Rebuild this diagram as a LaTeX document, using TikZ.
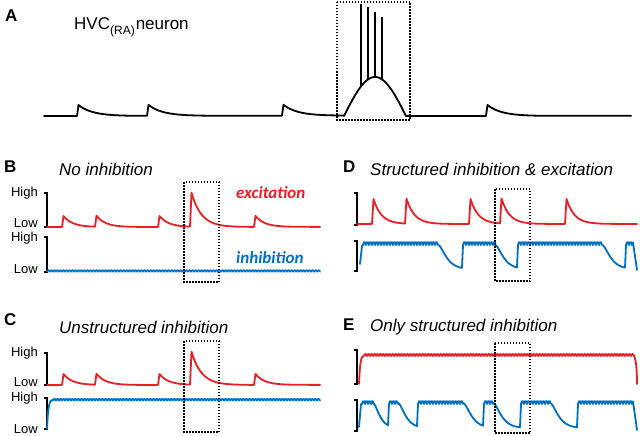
\documentclass[tikz,border=0pt]{standalone}
\usepackage{fontspec}
\setmainfont{Liberation Sans}
\newfontfamily\calfont{Carlito}
\definecolor{myred}{RGB}{234,30,37}
\definecolor{myblue}{RGB}{0,112,192}
% wiggly plateau: from #1 to #2, tops at #3, amplitude #4
\newcommand\Wg[4]{-- plot[samples at={#1,#1.5,...,#2}] (\x,{#3+#4*(1-abs(sin(60*mod(\x-#1,3))))})}
% smooth decay: from #1 to #2, from level #3 to level #4, time constant #5
\newcommand\Dc[5]{-- plot[samples at={#1,#1.5,...,#2}] (\x,{#4-(#4-#3)*exp(-(\x-#1)/#5)*(1+(\x-#1)/#5)})}
\begin{document}
\begin{tikzpicture}[x=1pt,y=-1pt,
  declare function={ep(\u,\a,\h,\k)=\h*min(max((\u-\a)/1.5,0),1)*exp(-min(max(\u-\a-1.5,0),60)/\k);},
  trace/.style={line width=1.8pt, line join=round, line cap=round},
  redtr/.style={trace, draw=myred},
  bluetr/.style={trace, draw=myblue},
  blacktr/.style={trace, draw=black},
  spike/.style={draw=black, line width=1.2pt},
  zoombox/.style={draw=black, line width=1.5pt, dash pattern=on 1.5pt off 1.5pt},
  brk/.style={draw=black, line width=1.6pt},
  lvl/.style={font=\fontsize{13}{13}\selectfont, anchor=base east, inner sep=0pt},
  panel/.style={font=\fontsize{17}{17}\selectfont\bfseries, anchor=base west, inner sep=0pt},
  ttl/.style={font=\fontsize{17}{17}\selectfont\itshape, anchor=base west, inner sep=0pt},
  sig/.style={font=\calfont\fontsize{17}{17}\selectfont\bfseries\itshape, anchor=base west, inner sep=0pt},
]
\useasboundingbox (0,0) rectangle (640,436);

% ---------------- Panel A ----------------
\node[panel] (labA) at (5,21.7) {A};
\node[font=\fontsize{17}{17}\selectfont, anchor=base west, inner sep=0pt] (hvc) at (74,29.5)
  {HVC\raisebox{-5pt}{\fontsize{12}{12}\selectfont(RA)}\kern1pt neuron};
\draw[blacktr] plot[samples at={44,44.5,...,344}] (\x,{116-ep(\x,77,11,14)-ep(\x,147,11,14)-ep(\x,282,11,14)})
  -- plot[samples at={344,344.5,...,406}] (\x,{116-39*sin(180*(\x-344)/62)})
  -- plot[samples at={406,406.5,...,631}] (\x,{116-ep(\x,486,11,14)});
\draw[spike] (361,86.4) -- (361,4);
\draw[spike] (368,79.4) -- (368,7);
\draw[spike] (375,77) -- (375,12);
\draw[spike] (382,79.4) -- (382,17);
\draw[zoombox] (337,2) rectangle (410,120);

% ---------------- Panel B ----------------
\node[panel] (labB) at (4,172.3) {B};
\node[ttl] (ttlB) at (59,175.5) {No inhibition};
\node[lvl] (hiB1) at (38,196.5) {High};
\node[lvl] (loB1) at (38,227.5) {Low};
\node[lvl] (hiB2) at (38,241.7) {High};
\node[lvl] (loB2) at (38,273) {Low};
\draw[brk] (44,193) -- (47,193) -- (47,227) -- (44,227);
\draw[brk] (44,237) -- (47,237) -- (47,272) -- (44,272);
\draw[redtr] plot[samples at={47,47.5,...,320}]
  (\x,{227-ep(\x,62,11,9)-ep(\x,95,11,9)-ep(\x,158,11,9)-ep(\x,190,34,10)-ep(\x,254,11,9)});
\draw[bluetr] (47,271.5) \Wg{47}{320}{270.3}{1.3};
\node[sig, text=myred] (exc) at (236,198.3) {excitation};
\node[sig, text=myblue] (inh) at (236,263.3) {inhibition};
\draw[zoombox] (184,182) rectangle (219,282);

% ---------------- Panel C ----------------
\node[panel] (labC) at (4,325.7) {C};
\node[ttl] (ttlC) at (59,333) {Unstructured inhibition};
\node[lvl] (hiC1) at (38,356) {High};
\node[lvl] (loC1) at (38,386.7) {Low};
\node[lvl] (hiC2) at (38,401.7) {High};
\node[lvl] (loC2) at (38,433) {Low};
\draw[brk] (44,353) -- (47,353) -- (47,385) -- (44,385);
\draw[brk] (44,398) -- (47,398) -- (47,429) -- (44,429);
\draw[redtr] plot[samples at={47,47.5,...,320}]
  (\x,{385-ep(\x,62,11,9)-ep(\x,95,11,9)-ep(\x,158,11,9)-ep(\x,190,33,10)-ep(\x,254,11,9)});
\draw[bluetr] (47,429) .. controls (48,408) and (49,399.5) .. (53,399.5) \Wg{53}{320}{399}{1.5};
\draw[zoombox] (184,341) rectangle (219,432);

% ---------------- Panel D ----------------
\node[panel] (labD) at (343,172.3) {D};
\node[ttl] (ttlD) at (370,175.5) {Structured inhibition \& excitation};
\draw[brk] (354,193) -- (357,193) -- (357,225) -- (354,225);
\draw[brk] (354,241) -- (357,241) -- (357,271) -- (354,271);
\draw[redtr] plot[samples at={357,357.5,...,637}]
  (\x,{224-ep(\x,372,25,8)-ep(\x,405,25,8)-ep(\x,469,25,8)-ep(\x,500,25,8)-ep(\x,565,25,8)});
\draw[bluetr] (360,264) -- (362,246) \Wg{363}{438}{242}{3} \Dc{438}{462}{245}{269}{5}
  \Wg{463}{495}{242}{3} \Dc{495}{517}{245}{269}{5}
  \Wg{518}{602}{242}{3} \Dc{602}{625}{245}{269}{5}
  \Wg{626}{633}{242}{3} -- (637,270);
\draw[zoombox] (495,189) rectangle (530,281);

% ---------------- Panel E ----------------
\node[panel] (labE) at (343,330) {E};
\node[ttl] (ttlE) at (370,331.5) {Only structured inhibition};
\draw[brk] (354,350) -- (357,350) -- (357,384) -- (354,384);
\draw[brk] (354,400) -- (357,400) -- (357,431) -- (354,431);
\draw[redtr] (359,384) .. controls (360,362) and (361,356) .. (364,355.5) \Wg{364}{633}{354}{2}
  .. controls (636,357) and (637,370) .. (637,384);
\draw[bluetr] (359,427) -- (361,404) \Wg{362}{373}{401}{3} \Dc{373}{388}{403}{428}{4}
  \Wg{389}{398}{401}{3} \Dc{398}{417}{403}{428}{4.5}
  \Wg{418}{463}{401}{3} \Dc{463}{483}{403}{428}{5}
  \Wg{484}{493}{401}{3} \Dc{493}{520}{403}{428}{5}
  \Wg{521}{550}{401}{3} \Dc{550}{577}{403}{428}{5}
  \Wg{578}{633}{401}{3} -- (637,430);
\draw[zoombox] (495,343) rectangle (530,433);
\end{tikzpicture}
\end{document}
